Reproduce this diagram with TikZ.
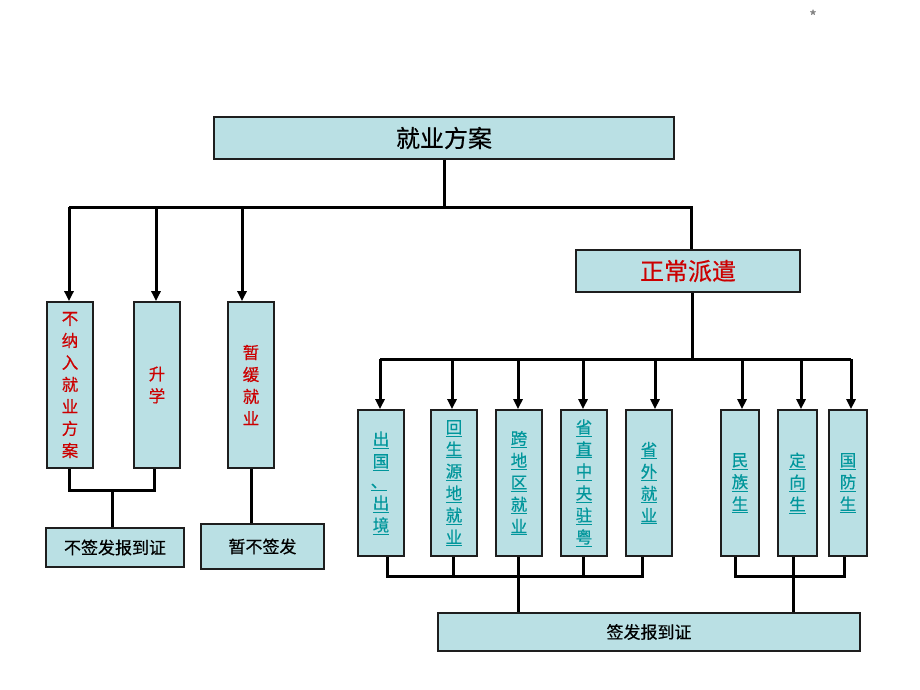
\documentclass[tikz,border=0pt]{standalone}
\usepackage{fontspec}
\setmainfont{Noto Sans CJK SC}[FakeBold=0.5]
\usetikzlibrary{arrows.meta}
\definecolor{boxfill}{RGB}{186,224,228}
\definecolor{tealtxt}{RGB}{0,150,155}
\definecolor{redtxt}{RGB}{204,0,0}
\definecolor{edge}{RGB}{30,30,30}
\newcommand\tu[1]{\underline{#1}}
\begin{document}
\begin{tikzpicture}[x=1pt,y=-1pt,
  box/.style={draw=edge, line width=1.6pt, fill=boxfill, inner sep=0pt, align=center},
  vbox/.style={box, minimum width=46pt, minimum height=146pt, font=\fontsize{16.5}{22}\selectfont},
  lbox/.style={vbox, minimum height=166pt, text=redtxt},
  tbox/.style={vbox, text=tealtxt},
  conn/.style={line width=3pt, black, line join=miter},
  arr/.style={conn, -{Triangle[length=10pt,width=9pt]}},
]
\useasboundingbox (0,0) rectangle (920,690);
\node[text=gray, font=\fontsize{16}{16}\selectfont] (star) at (813,16) {*};

% boxes
\node[box, minimum width=460pt, minimum height=42pt, font=\fontsize{24}{28}\selectfont] (top) at (444,138) {就业方案};
\node[box, minimum width=224pt, minimum height=42pt, font=\fontsize{24}{28}\selectfont, text=redtxt] (pq) at (688,271) {正常派遣};

\node[lbox] (L1) at (70,385) {不\\纳\\入\\就\\业\\方\\案};
\node[lbox] (L2) at (157,385) {升\\学};
\node[lbox] (L3) at (251,385) {暂\\缓\\就\\业};

\node[box, minimum width=138pt, minimum height=39pt, font=\fontsize{17}{20}\selectfont] (nb) at (115,547.5) {不签发报到证};
\node[box, minimum width=123pt, minimum height=45pt, font=\fontsize{17}{20}\selectfont] (zb) at (262.5,546.5) {暂不签发};

\node[tbox] (R1) at (381,483) {\tu{出}\\\tu{国}\\[20pt]\tu{出}\\\tu{境}};
\node[text=tealtxt, font=\fontsize{16.5}{22}\selectfont, inner sep=0pt] (R1c) at (379,487) {\tu{、}};
\node[tbox] (R2) at (454,483) {\tu{回}\\\tu{生}\\\tu{源}\\\tu{地}\\\tu{就}\\\tu{业}};
\node[tbox] (R3) at (519,483) {\tu{跨}\\\tu{地}\\\tu{区}\\\tu{就}\\\tu{业}};
\node[tbox] (R4) at (584,483) {\tu{省}\\\tu{直}\\\tu{中}\\\tu{央}\\\tu{驻}\\\tu{粤}};
\node[tbox] (R5) at (649,483) {\tu{省}\\\tu{外}\\\tu{就}\\\tu{业}};
\node[tbox, minimum width=38pt] (R6) at (740,483) {\tu{民}\\\tu{族}\\\tu{生}};
\node[tbox, minimum width=39pt] (R7) at (797.5,483) {\tu{定}\\\tu{向}\\\tu{生}};
\node[tbox, minimum width=38pt] (R8) at (848,483) {\tu{国}\\\tu{防}\\\tu{生}};

\node[box, minimum width=422pt, minimum height=38pt, font=\fontsize{17}{20}\selectfont] (qf) at (649,632) {签发报到证};

% top level connectors
\coordinate (h1L) at (69,207);
\coordinate (h1M) at (444,207);
\coordinate (h1R) at (691,207);
\coordinate (a2) at (156,207);
\coordinate (a3) at (242,207);
\draw[conn] (top.south) -- (h1M);
\draw[conn] (h1L) -- (h1R) -- (h1R |- pq.north);
\draw[arr] (h1L) -- (h1L |- L1.north);
\draw[arr] (a2) -- (a2 |- L2.north);
\draw[arr] (a3) -- (a3 |- L3.north);

% left bottom
\coordinate (j1) at (69,490);
\coordinate (j2) at (154,490);
\coordinate (jL) at (112,490);
\draw[conn] (j1 |- L1.south) -- (j1) -- (j2) -- (j2 |- L2.south);
\draw[conn] (jL) -- (jL |- nb.north);
\draw[conn] (L3.south) -- (L3.south |- zb.north);

% second level
\coordinate (h2M) at (692,359);
\coordinate (c1) at (380,359);
\coordinate (c2) at (452,359);
\coordinate (c3) at (518,359);
\coordinate (c4) at (583,359);
\coordinate (c5) at (655,359);
\coordinate (c6) at (742,359);
\coordinate (c7) at (801,359);
\coordinate (c8) at (851,359);
\draw[conn] (h2M |- pq.south) -- (h2M);
\draw[conn] (c1) -- (c8);
\draw[arr] (c1) -- (c1 |- R1.north);
\draw[arr] (c2) -- (c2 |- R2.north);
\draw[arr] (c3) -- (c3 |- R3.north);
\draw[arr] (c4) -- (c4 |- R4.north);
\draw[arr] (c5) -- (c5 |- R5.north);
\draw[arr] (c6) -- (c6 |- R6.north);
\draw[arr] (c7) -- (c7 |- R7.north);
\draw[arr] (c8) -- (c8 |- R8.north);

% right bottom
\coordinate (b1) at (387,576);
\coordinate (b2) at (453,576);
\coordinate (b3) at (518,576);
\coordinate (b4) at (583,576);
\coordinate (b5) at (642,576);
\draw[conn] (b1 |- R1.south) -- (b1) -- (b5) -- (b5 |- R5.south);
\draw[conn] (b2 |- R2.south) -- (b2);
\draw[conn] (b3 |- R3.south) -- (b3 |- qf.north);
\draw[conn] (b4 |- R4.south) -- (b4);

\coordinate (d1) at (735,576);
\coordinate (d2) at (793,576);
\coordinate (d3) at (844,576);
\draw[conn] (d1 |- R6.south) -- (d1) -- (d3) -- (d3 |- R8.south);
\draw[conn] (d2 |- R7.south) -- (d2 |- qf.north);
\end{tikzpicture}
\end{document}
